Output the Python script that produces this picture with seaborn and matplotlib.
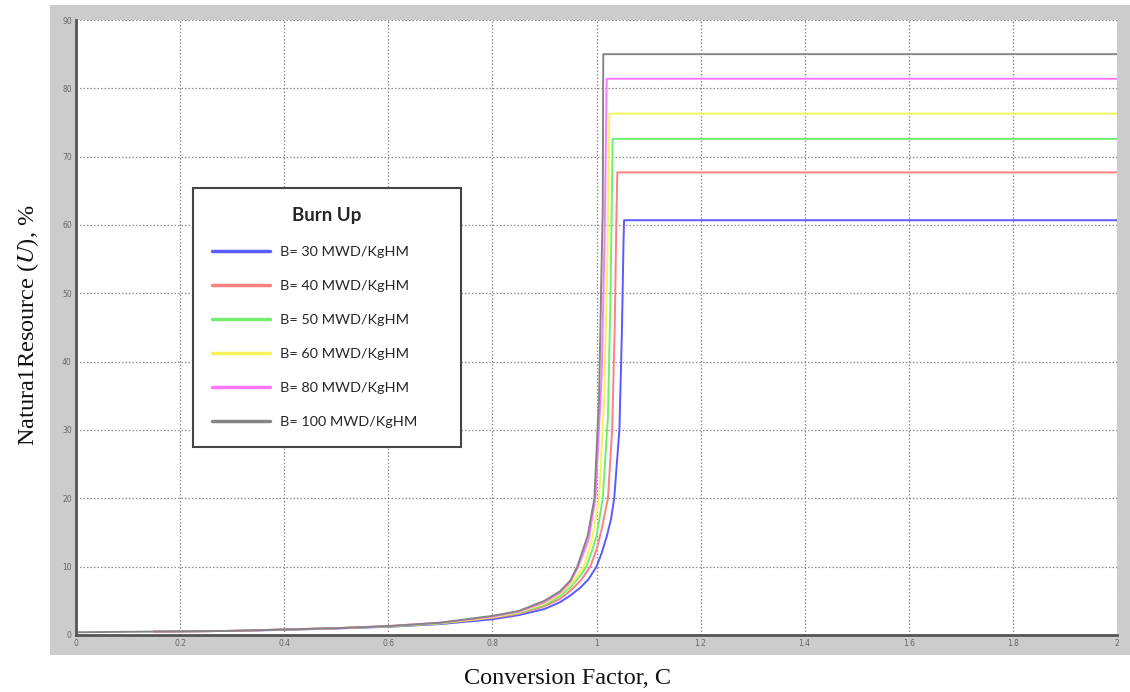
import matplotlib
matplotlib.use("Agg")
import matplotlib.pyplot as plt
import seaborn as sns
import pandas as pd
from matplotlib.patches import Rectangle

# ---------------- data ----------------
labels = ["B= 30 MWD/KgHM", "B= 40 MWD/KgHM", "B= 50 MWD/KgHM",
          "B= 60 MWD/KgHM", "B= 80 MWD/KgHM", "B= 100 MWD/KgHM"]
colors = ["#5a5aff", "#ff8080", "#70ee70", "#f4f45a", "#ff78ff", "#858585"]

c_b30 = [0.15, 0.3, 0.4, 0.5, 0.6, 0.7, 0.8, 0.85, 0.9, 0.93, 0.95, 0.97, 0.985, 1.0,
         1.01, 1.02, 1.028, 1.034, 1.044, 1.049, 1.052, 1.053, 2.0]
u_b30 = [0.5, 0.6, 0.75, 0.95, 1.2, 1.6, 2.3, 2.9, 3.8, 4.8, 5.8, 7.0, 8.2, 10.0,
         12.0, 14.5, 17.0, 20.0, 30.0, 45.0, 58.0, 60.7, 60.7]

c_b40 = [0.15, 0.3, 0.4, 0.5, 0.6, 0.7, 0.8, 0.85, 0.9, 0.93, 0.95, 0.97, 0.988, 1.0,
         1.01, 1.022, 1.03, 1.035, 1.038, 1.04, 2.0]
u_b40 = [0.5, 0.6, 0.8, 1.0, 1.25, 1.7, 2.5, 3.1, 4.2, 5.3, 6.5, 8.0, 10.0, 12.5,
         15.5, 20.0, 30.0, 45.0, 60.0, 67.7, 67.7]

c_b50 = [0.15, 0.3, 0.4, 0.5, 0.6, 0.7, 0.8, 0.85, 0.9, 0.93, 0.95, 0.97, 0.98, 0.99,
         1.0, 1.012, 1.022, 1.027, 1.031, 2.0]
u_b50 = [0.5, 0.6, 0.8, 1.0, 1.25, 1.7, 2.6, 3.2, 4.4, 5.7, 7.0, 8.8, 10.0, 12.0,
         14.5, 20.0, 32.0, 50.0, 72.6, 72.6]

c_b60 = [0.15, 0.3, 0.4, 0.5, 0.6, 0.7, 0.8, 0.85, 0.9, 0.93, 0.95, 0.975, 0.99,
         1.005, 1.015, 1.021, 1.0245, 2.0]
u_b60 = [0.5, 0.6, 0.8, 1.0, 1.3, 1.75, 2.6, 3.3, 4.6, 6.0, 7.4, 10.0, 13.5,
         20.0, 35.0, 55.0, 76.3, 76.3]

c_b80 = [0.15, 0.3, 0.4, 0.5, 0.6, 0.7, 0.8, 0.85, 0.9, 0.93, 0.95, 0.965, 0.985,
         0.998, 1.01, 1.016, 1.0195, 2.0]
u_b80 = [0.5, 0.6, 0.8, 1.0, 1.3, 1.8, 2.7, 3.4, 4.8, 6.2, 7.8, 10.0, 14.0,
         20.0, 38.0, 60.0, 81.4, 81.4]

c_b100 = [0.0, 0.15, 0.3, 0.4, 0.5, 0.6, 0.7, 0.8, 0.85, 0.9, 0.93, 0.95, 0.963, 0.983,
          0.996, 1.005, 1.01, 1.012, 1.013, 2.0]
u_b100 = [0.4, 0.5, 0.6, 0.8, 1.0, 1.3, 1.8, 2.8, 3.5, 5.0, 6.4, 8.0, 10.0, 14.5,
          20.0, 35.0, 55.0, 62.0, 85.0, 85.0]

series_c = [c_b30, c_b40, c_b50, c_b60, c_b80, c_b100]
series_u = [u_b30, u_b40, u_b50, u_b60, u_b80, u_b100]

x_ticks = [0, 0.2, 0.4, 0.6, 0.8, 1.0, 1.2, 1.4, 1.6, 1.8, 2.0]
x_tick_labels = ["0", "0.2", "0.4", "0.6", "0.8", "1", "1.2", "1.4", "1.6", "1.8", "2"]
y_ticks = [0, 10, 20, 30, 40, 50, 60, 70, 80, 90]
y_tick_labels = [str(v) for v in y_ticks]

# ---------------- figure ----------------
sns.set_theme(style="white")
plt.rcParams["font.family"] = ["DejaVu Sans"]
plt.rcParams["mathtext.fontset"] = "stix"

W, H = 1130, 692
fig = plt.figure(figsize=(W / 100, H / 100), dpi=100)
fig.patch.set_facecolor("white")
fig.patches.append(Rectangle((50 / W, 1 - 655 / H), 1 - 50 / W, (655 - 5) / H,
                             transform=fig.transFigure, facecolor="#cccccc",
                             edgecolor="none", zorder=-10))

ax = fig.add_axes([76 / W, 1 - 635 / H, (1117 - 76) / W, (635 - 20) / H])
ax.set_zorder(1)
ax.set_facecolor("white")

for c, u, lab, col in zip(series_c, series_u, labels, colors):
    df = pd.DataFrame({"C": c, "U": u})
    sns.lineplot(data=df, x="C", y="U", ax=ax, color=col, label=lab,
                 estimator=None, sort=False, linewidth=1.4, legend=False)

ax.set_xlim(0, 2)
ax.set_ylim(0, 90)
ax.set_xticks(x_ticks)
ax.set_xticklabels(x_tick_labels)
ax.set_yticks(y_ticks)
ax.set_yticklabels(y_tick_labels)
ax.set_xlabel("")
ax.set_ylabel("")

ax.grid(True, color="#8a8a8a", linestyle=(0, (1.2, 1.6)), linewidth=0.9)
ax.tick_params(axis="both", direction="in", length=5, width=1.3, color="#555555",
               labelsize=5.5, labelcolor="#666666", pad=3)
for side in ["top", "right"]:
    ax.spines[side].set_visible(False)
for side in ["left", "bottom"]:
    ax.spines[side].set_color("#555555")
    ax.spines[side].set_linewidth(2.0)

# axis labels
fig.text(568 / W, 1 - 678 / H, "Conversion Factor, C", ha="center", va="center",
         fontsize=17.5, family="Liberation Serif", color="#111111")
fig.text(28 / W, 1 - 325 / H, r"Natura1Resource ($\mathit{U}$), %", ha="center",
         va="center", rotation=90, fontsize=17.5, family="Liberation Serif", color="#111111")

# legend
leg = ax.legend(loc="upper left",
                bbox_to_anchor=(193 / W, 1 - 443 / H, (461 - 193) / W, (443 - 188) / H),
                bbox_transform=fig.transFigure, mode="expand", title="Burn Up",
                prop={"family": "Lato", "size": 10.4}, handlelength=4.0,
                labelspacing=1.52, borderpad=1.3, handletextpad=0.7,
                borderaxespad=0, fancybox=False, framealpha=1, edgecolor="#444444")
leg.get_frame().set_linewidth(1.5)
leg.get_title().set_fontproperties({"family": "Lato", "weight": "bold", "size": 13.5})
for h in leg.legend_handles:
    h.set_linewidth(2.5)

fig.savefig("out.png", dpi=100)
